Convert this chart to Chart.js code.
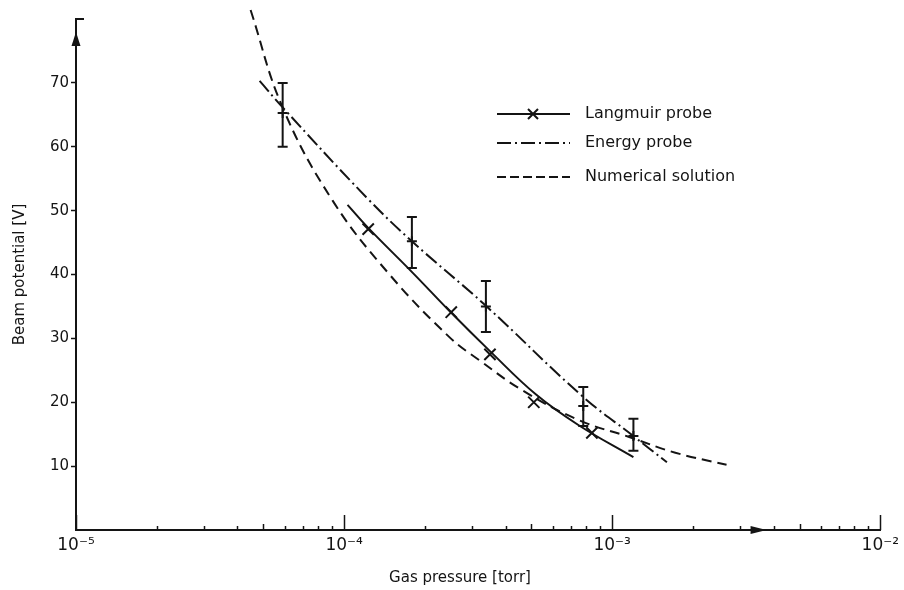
<!DOCTYPE html>
<html><head><meta charset="utf-8">
<script src="https://cdn.jsdelivr.net/npm/chart.js@4"></script>
<style>html,body{margin:0;padding:0;background:#fff;}#wrap{width:904px;height:590px;}</style>
</head><body><div id="wrap"><canvas id="c" width="904" height="590"></canvas></div>
<script>
// ---- Data ----
const xDecades = [-5, -4, -3, -2];
const xDecadeLabels = ['10⁻⁵', '10⁻⁴', '10⁻³', '10⁻²'];
const yTickValues = [0, 10, 20, 30, 40, 50, 60, 70, 80];
const yTickLabels = ['', '10', '20', '30', '40', '50', '60', '70', ''];
const seriesNames = ['Langmuir probe', 'Energy probe', 'Numerical solution'];

// Langmuir probe measurements (x markers) and its fitted solid curve
const langmuirP = [1.23e-4, 2.51e-4, 3.50e-4, 5.1e-4, 8.4e-4];
const langmuirV = [47.1, 34.1, 27.5, 20.0, 15.2];
const langmuirCurveP = [1.03e-4, 1.23e-4, 1.8e-4, 2.51e-4, 3.5e-4, 5.2e-4, 7.5e-4, 1.2e-3];
const langmuirCurveV = [50.9, 47.3, 40.3, 34.0, 28.0, 21.2, 16.4, 11.4];

// Energy probe measurements with error bars and its dash-dot curve
const energyP = [5.9e-5, 1.79e-4, 3.38e-4, 7.8e-4, 1.2e-3];
const energyV = [65.3, 45.2, 35.0, 19.4, 14.7];
const energyLow = [60, 41, 31, 16.3, 12.4];
const energyHigh = [70, 49, 39, 22.4, 17.4];
const energyCurveP = [4.84e-5, 5.89e-5, 1.21e-4, 1.79e-4, 3.38e-4, 7.71e-4, 1.2e-3, 1.6e-3];
const energyCurveV = [70.3, 66.2, 52.1, 45.2, 35.1, 21.0, 14.7, 10.6];

// Numerical solution (dashed)
const numP = [4.48e-5, 5.89e-5, 9.05e-5, 1.47e-4, 2.47e-4, 3.19e-4, 4.61e-4, 7.51e-4, 1.15e-3, 1.72e-3, 2.67e-3];
const numV = [81.4, 66.2, 51.6, 40.1, 30.2, 26.6, 21.9, 17.2, 14.6, 12.1, 10.2];

// ---- Styles ----
const INK = '#141414';
const FONT = "'DejaVu Sans', sans-serif";
const DASH_DOT = [14, 4, 2, 4];
const DASHED = [10, 6];

const pts = (xs, ys) => xs.map((x, i) => ({x: x, y: ys[i]}));

const decor = {
  id: 'decor',
  afterDatasetsDraw(chart) {
    const ctx = chart.ctx, xs = chart.scales.x, ys = chart.scales.y;
    ctx.save();
    ctx.strokeStyle = INK; ctx.fillStyle = INK;
    ctx.lineWidth = 2;
    for (let i = 0; i < energyP.length; i++) {
      const px = xs.getPixelForValue(energyP[i]);
      const y1 = ys.getPixelForValue(energyLow[i]);
      const y2 = ys.getPixelForValue(energyHigh[i]);
      ctx.beginPath();
      ctx.moveTo(px, y1); ctx.lineTo(px, y2);
      ctx.moveTo(px - 5, y1); ctx.lineTo(px + 5, y1);
      ctx.moveTo(px - 5, y2); ctx.lineTo(px + 5, y2);
      ctx.stroke();
    }
    ctx.restore();
  },
  afterDraw(chart) {
    const ctx = chart.ctx, xs = chart.scales.x, ys = chart.scales.y, a = chart.chartArea;
    ctx.save();
    ctx.strokeStyle = INK; ctx.fillStyle = INK;
    ctx.lineWidth = 1.5;
    xs.ticks.forEach(t => {
      const lg = Math.log10(t.value);
      const e = Math.floor(lg + 1e-9);
      const m = Math.round(t.value / Math.pow(10, e));
      const len = (m === 1) ? 15 : (m === 5 ? 6 : 4);
      const px = Math.round(xs.getPixelForValue(t.value)) + 0.5;
      ctx.beginPath(); ctx.moveTo(px, a.bottom); ctx.lineTo(px, a.bottom - len); ctx.stroke();
    });
    const yTop = ys.getPixelForValue(yTickValues[yTickValues.length - 1]);
    ctx.lineWidth = 2;
    ctx.beginPath(); ctx.moveTo(a.left, yTop); ctx.lineTo(a.left + 8, yTop); ctx.stroke();
    const ax = a.left, tip = a.top + 13;
    ctx.beginPath(); ctx.moveTo(ax, tip); ctx.lineTo(ax - 4.5, tip + 14); ctx.lineTo(ax + 4.5, tip + 14); ctx.closePath(); ctx.fill();
    const tx = a.left + 0.8586 * (a.right - a.left), ay = a.bottom;
    ctx.beginPath(); ctx.moveTo(tx, ay); ctx.lineTo(tx - 16, ay - 4); ctx.lineTo(tx - 16, ay + 4); ctx.closePath(); ctx.fill();

    // legend
    const rows = [114, 143, 177];
    const lx1 = 497, lx2 = 570, tx0 = 585;
    ctx.font = "16px " + FONT;
    ctx.textBaseline = 'middle';
    ctx.textAlign = 'left';
    ctx.lineWidth = 2;
    ctx.setLineDash([]);
    ctx.beginPath(); ctx.moveTo(lx1, rows[0]); ctx.lineTo(lx2, rows[0]); ctx.stroke();
    ctx.beginPath();
    ctx.moveTo(533 - 5, rows[0] - 5); ctx.lineTo(533 + 5, rows[0] + 5);
    ctx.moveTo(533 - 5, rows[0] + 5); ctx.lineTo(533 + 5, rows[0] - 5);
    ctx.stroke();
    ctx.setLineDash(DASH_DOT);
    ctx.beginPath(); ctx.moveTo(lx1, rows[1]); ctx.lineTo(lx2, rows[1]); ctx.stroke();
    ctx.setLineDash([9, 4]);
    ctx.beginPath(); ctx.moveTo(lx1, rows[2]); ctx.lineTo(lx2, rows[2]); ctx.stroke();
    ctx.setLineDash([]);
    seriesNames.forEach((n, i) => ctx.fillText(n, tx0, rows[i]));

    ctx.font = "15px " + FONT;
    ctx.textAlign = 'center';
    ctx.fillText('Gas pressure [torr]', 460, 578);
    ctx.restore();
  }
};

new Chart(document.getElementById('c'), {
  type: 'scatter',
  data: {
    datasets: [
      { label: seriesNames[0], data: pts(langmuirCurveP, langmuirCurveV), showLine: true,
        borderColor: INK, borderWidth: 2, pointRadius: 0, tension: 0.4 },
      { label: seriesNames[0] + ' data', data: pts(langmuirP, langmuirV), showLine: false,
        pointStyle: 'crossRot', pointRadius: 8, borderColor: INK, pointBorderWidth: 2, backgroundColor: INK },
      { label: seriesNames[1], data: pts(energyCurveP, energyCurveV), showLine: true,
        borderColor: INK, borderWidth: 2, borderDash: DASH_DOT, pointRadius: 0, tension: 0.4 },
      { label: seriesNames[1] + ' data', data: pts(energyP, energyV), showLine: false,
        pointStyle: 'cross', pointRadius: 5, borderColor: INK, pointBorderWidth: 2, backgroundColor: INK },
      { label: seriesNames[2], data: pts(numP, numV), showLine: true, clip: false,
        borderColor: INK, borderWidth: 2, borderDash: DASHED, pointRadius: 0, tension: 0.4 }
    ]
  },
  options: {
    responsive: false,
    animation: false,
    devicePixelRatio: 1,
    layout: { padding: { left: 0, top: 19, right: 22, bottom: 0 } },
    plugins: { legend: { display: false }, tooltip: { enabled: false } },
    scales: {
      x: {
        type: 'logarithmic', min: 1e-5, max: 1e-2, position: 'bottom',
        grid: { display: false, drawTicks: false },
        border: { display: true, color: INK, width: 2 },
        afterBuildTicks: (s) => {
          const t = [];
          for (let d = xDecades[0]; d < xDecades[xDecades.length - 1]; d++)
            for (let m = 1; m <= 9; m++) t.push({ value: m * Math.pow(10, d) });
          t.push({ value: Math.pow(10, xDecades[xDecades.length - 1]) });
          s.ticks = t;
        },
        ticks: {
          autoSkip: false, maxRotation: 0, padding: 5, color: INK,
          font: { family: FONT, size: 17 },
          callback: (v) => {
            const lg = Math.log10(v);
            if (Math.abs(lg - Math.round(lg)) > 1e-6) return '';
            const k = xDecades.indexOf(Math.round(lg));
            return k >= 0 ? xDecadeLabels[k] : '';
          }
        },
        afterFit: (s) => { s.height = 60; }
      },
      y: {
        type: 'linear', min: 0, max: 80,
        afterBuildTicks: (s) => { s.ticks = yTickValues.map(v => ({ value: v })); },
        grid: {
          drawOnChartArea: false, drawTicks: true, tickLength: 5, tickWidth: 1.5,
          tickColor: (c) => (c.tick && (c.tick.value === 0 || c.tick.value === 80)) ? 'rgba(0,0,0,0)' : INK
        },
        border: { display: true, color: INK, width: 2 },
        ticks: {
          padding: 2, color: INK, font: { family: FONT, size: 15 },
          callback: (v, i) => yTickLabels[i]
        },
        title: { display: true, text: 'Beam potential [V]', color: INK,
          font: { family: FONT, size: 15 }, padding: { top: 11, bottom: 0 } },
        afterFit: (s) => { s.width = 76; }
      }
    }
  },
  plugins: [decor]
});
</script>
</body></html>
